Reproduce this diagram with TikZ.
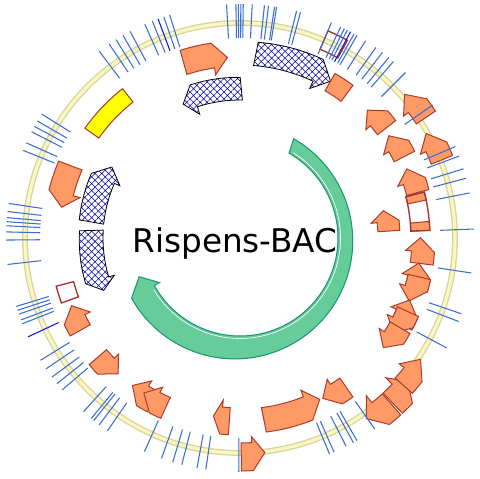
\documentclass[tikz,border=0pt]{standalone}
\usepackage{fontspec}
\newfontfamily\mapfont{DejaVu Sans}
\usepackage{tikz}
\usetikzlibrary{patterns.meta}

% arc arrow: [style]{start}{head base}{tip}{inner r}{outer r}{wing}
\newcommand{\arcarrow}[7][]{%
  \draw[#1] (#2:#5) arc[start angle=#2, end angle=#3, radius=#5]
    -- ({#3}:{#5-#7}) -- ({#4}:{(#5+#6)/2}) -- ({#3}:{#6+#7})
    arc[start angle=#3, end angle=#2, radius=#6] -- cycle;}
% arc box: [style]{start}{end}{inner r}{outer r}
\newcommand{\arcbox}[5][]{%
  \draw[#1] (#2:#4) arc[start angle=#2, end angle=#3, radius=#4]
    -- (#3:#5) arc[start angle=#3, end angle=#2, radius=#5] -- cycle;}
% short gene: {centre}{direction +1/-1}{inner r}{outer r}
\newcommand{\smallgene}[4]{%
  \pgfmathsetmacro\genA{#1-4.1*(#2)}%
  \pgfmathsetmacro\genH{#1-0.3*(#2)}%
  \pgfmathsetmacro\genT{#1+4.1*(#2)}%
  \arcarrow[gene]{\genA}{\genH}{\genT}{#3}{#4}{6}}

\begin{document}
\begin{tikzpicture}[x=0.75pt,y=0.75pt,yscale=-1,xscale=1,
  ring/.style={draw={rgb, 255:red, 218; green, 212; blue, 150 }, line width=1,
    double={rgb, 255:red, 250; green, 247; blue, 196 }, double distance=2.4},
  tick/.style={draw={rgb, 255:red, 60; green, 110; blue, 210 }, line width=0.8},
  darktick/.style={draw={rgb, 255:red, 20; green, 20; blue, 235 }, line width=0.8},
  gene/.style={fill={rgb, 255:red, 255; green, 153; blue, 102 }, draw={rgb, 255:red, 170; green, 60; blue, 45 }, line width=0.75},
  hatch/.style={draw=black, line width=0.6, preaction={fill=white},
    pattern={Hatch[angle=45, distance=3.6pt, line width=0.4pt]}, pattern color={rgb, 255:red, 0; green, 0; blue, 170 }},
  backbone/.style={fill={rgb, 255:red, 102; green, 204; blue, 153 }, draw={rgb, 255:red, 20; green, 150; blue, 110 }, line width=0.75},
  redbox/.style={draw={rgb, 255:red, 165; green, 50; blue, 40 }, line width=1},
  yellowbox/.style={fill={rgb, 255:red, 255; green, 255; blue, 0 }, draw={rgb, 255:red, 160; green, 60; blue, 40 }, line width=0.75}]
\useasboundingbox (0,0) rectangle (480,479);

\begin{scope}[shift={(240,238)}]
%Shape: Circle
\draw[ring] (0,0) circle [x radius=215, y radius=215];

%Shape: Arc Arrow (backbone)
\arcarrow[backbone]{300}{511}{519}{98}{118}{6}
\draw[white, line width=0.5] (302:100.5) arc[start angle=302, end angle=509, radius=100.5];

%Shape: Arc Arrows (hatched)
\arcarrow[hatch]{274.5}{295}{300}{173}{189}{8}
\arcarrow[hatch]{271}{252}{247}{138}{153}{8}
\arcarrow[hatch]{185.8}{203.5}{209}{137}{156}{6}
\arcarrow[hatch]{183.3}{163.5}{159}{137}{155}{6}

%Shape: Arc Box (yellow)
\arcbox[yellowbox]{215.3}{231.8}{173}{190}

%Shape: Arc Arrows (genes)
\arcarrow[gene]{252}{261.5}{266}{172}{190}{7}
\arcarrow[gene]{203.3}{194.2}{189.8}{172}{190}{7}
\arcarrow[gene]{82.8}{68.2}{63.7}{171}{189}{7}
\arcarrow[gene]{89.7}{86.7}{83.4}{205}{227}{6}
\arcarrow[gene]{93.3}{95.9}{98.5}{170}{190}{7}
\arcarrow[gene]{47.3}{43.8}{40.5}{211}{230}{9}
\arcarrow[gene]{47.6}{51.3}{55}{211}{230}{9}
\smallgene{319}{-1}{172}{189}
\smallgene{329.6}{-1}{172}{189}
\smallgene{341.6}{-1}{172}{189}
\smallgene{4}{-1}{172}{189}
\smallgene{12.1}{-1}{172}{189}
\smallgene{16.3}{1}{172}{189}
\smallgene{24.2}{-1}{172}{189}
\smallgene{27.7}{1}{172}{189}
\smallgene{33.3}{1}{172}{189}
\smallgene{38}{-1}{209}{226}
\smallgene{323}{-1}{210}{227}
\smallgene{334.8}{-1}{205}{222}
\smallgene{353.3}{-1}{138}{154}
\smallgene{58.6}{1}{172}{189}
\smallgene{154}{1}{173}{190}
\smallgene{136}{-1}{174}{191}
\smallgene{122}{1}{174}{191}
\smallgene{117.7}{1}{174}{191}

%Shape: Arc Boxes
\arcbox[gene]{300}{306.5}{170}{190}
\arcbox[gene]{346}{348.5}{171}{190}
\arcbox[gene]{355}{357.7}{171}{190}
\arcbox[redbox]{346}{357.7}{171}{190}
\arcbox[redbox]{293}{298.5}{205}{225}
\arcbox[redbox]{160}{165.3}{172}{190}

%Straight Lines (sites)
\foreach \a in {233,236,238,240,242,246,248,251,252.5,266.7,269,269.6,270.2,270.8,273,276,277,278.5,279,284,285,
  293,295.5,296.5,297.3,299.2,300,302.5,305.5,307.5,309.5,311,315,325.4,337,339.5,342.8,345.2,348.9,357.8,
  8.6,18.9,20.9,28,54.8,60,61,63,66.3,67.5,90.3,98.4,100.6,104.4,106.7,109.6,114.1,
  124.5,127,128.7,129.5,132,139.5,141.5,143.5,146,148.5,158.5,159.5,161,162,163,173.5,179.5,
  181.5,183,184,185,186.5,188.5,202,204,207,208.5,210,212}
  \draw[tick] (\a:200) -- (\a:234);
\foreach \a in {249.5,298.2,155}
  \draw[darktick] (\a:200) -- (\a:234);
\end{scope}

% Text Node
\node[anchor=base, inner sep=0.75pt, font=\mapfont\fontsize{24.5}{29}\selectfont] (title) at (235,252) {Rispens-BAC};

\end{tikzpicture}
\end{document}
